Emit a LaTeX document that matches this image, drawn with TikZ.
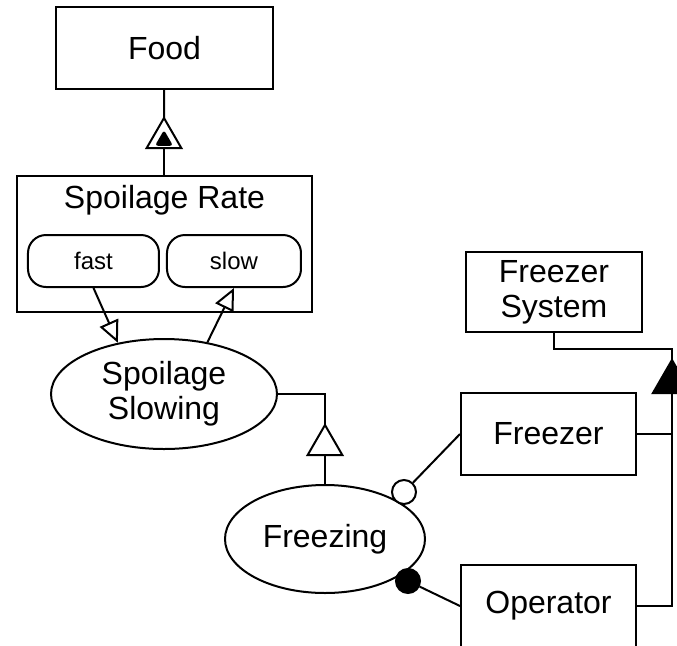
\documentclass[tikz,border=0pt]{standalone}
\usepackage{fontspec}
\setmainfont{Liberation Sans}
\usetikzlibrary{arrows.meta, shapes.geometric}
\tikzset{
  font=\fontsize{16}{17.5}\selectfont,
  >={Triangle[open, length=11pt, width=10pt]},
  %
  thing/.style={draw, line width=1pt, rectangle, align=center, inner sep=0pt},
  procs/.style={draw, line width=1pt, ellipse, align=center, inner sep=0pt},
  state/.style={draw, line width=1pt, rounded corners=9pt, inner sep=0pt,
                font=\fontsize{12}{14}\selectfont},
  %
  tri/.style={draw, line width=1pt, regular polygon, regular polygon sides=3,
              inner sep=0pt, outer sep=0pt, fill=white},
  knob/.style={draw, line width=1pt, circle, minimum size=12pt, inner sep=0pt},
  link/.style={line width=1pt},
}
\begin{document}
\begin{tikzpicture}[x=0.5pt, y=-0.5pt]
  \useasboundingbox (0,0) rectangle (677,645);
  \clip (0,0) rectangle (677,645);

  % ---- objects and processes
  \node[thing, minimum width=108.5pt, minimum height=41pt] (food) at (164.5,48) {Food};
  \node[thing, minimum width=147.5pt, minimum height=68pt] (rate) at (164.5,244) {};
  \node (rateTitle) at (164.5,200) {Spoilage Rate};
  \node[state, minimum width=65.5pt, minimum height=26pt] (fast) at (93.5,261) {fast};
  \node[state, minimum width=67pt, minimum height=26pt] (slow) at (234,261) {slow};
  \node[procs, minimum width=113pt, minimum height=55pt] (slowing) at (164,394) {Spoilage\\Slowing};
  \node[procs, minimum width=100pt, minimum height=54pt] (freezing) at (325,539) {Freezing};
  \node[thing, minimum width=88pt, minimum height=40pt] (fsys) at (554,292) {Freezer\\System};
  \node[thing, minimum width=87.5pt, minimum height=41pt] (freezer) at (548.5,434) {Freezer};
  \node[thing, minimum width=87.5pt, minimum height=41pt] (operator) at (548.5,606) {Operator};

  % ---- link symbols
  \node[tri, minimum size=20pt] (exhib) at (164,138) {};
  \node[fill, regular polygon, regular polygon sides=3, minimum size=10.5pt,
        inner sep=0pt, rounded corners=1.5pt] (exmark) at (164,140.5) {};
  \node[tri, minimum size=20pt] (gen) at (325,445) {};
  \node[tri, fill=black, minimum size=22pt] (agg) at (672,382) {};
  \node[knob, fill=white] (instr) at (404,492) {};
  \node[knob, fill=black] (agent) at (408,581) {};

  % ---- links
  \draw[link] (food) -- (exhib.north);
  \draw[link] (exhib.south) -- (exhib.south |- rate.north);
  \draw[link, ->] (fast.south) -- (slowing.132);
  \draw[link, ->] (slowing.50) -- (slow.south);
  \draw[link] (slowing.east) -| (gen.north);
  \draw[link] (gen.south) -- (freezing.north);
  \draw[link] (freezer.west) -- (instr);
  \draw[link] (agent) -- (operator.west);
  \draw[link] (fsys.south) -- ++(0,16) -| (agg.north);
  \draw[link] (agg.south) |- (operator.east);
  \draw[link] (freezer.east) -- (freezer.east -| agg.south);
\end{tikzpicture}
\end{document}
